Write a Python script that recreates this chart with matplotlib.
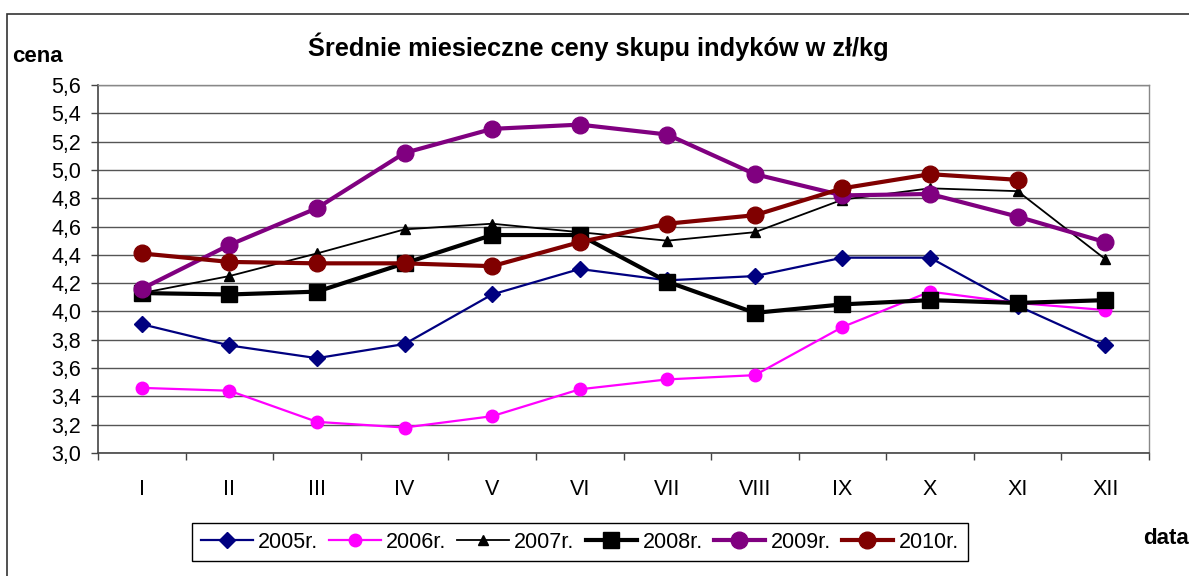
import matplotlib.pyplot as plt
from matplotlib.patches import Rectangle
from matplotlib.ticker import FuncFormatter

months = ['I', 'II', 'III', 'IV', 'V', 'VI', 'VII', 'VIII', 'IX', 'X', 'XI', 'XII']

ceny_2005 = [3.91, 3.76, 3.67, 3.77, 4.12, 4.30, 4.22, 4.25, 4.38, 4.38, 4.04, 3.76]
ceny_2006 = [3.46, 3.44, 3.22, 3.18, 3.26, 3.45, 3.52, 3.55, 3.89, 4.14, 4.06, 4.01]
ceny_2007 = [4.13, 4.25, 4.41, 4.58, 4.62, 4.56, 4.50, 4.56, 4.79, 4.87, 4.85, 4.37]
ceny_2008 = [4.13, 4.12, 4.14, 4.34, 4.54, 4.54, 4.21, 3.99, 4.05, 4.08, 4.06, 4.08]
ceny_2009 = [4.16, 4.47, 4.73, 5.12, 5.29, 5.32, 5.25, 4.97, 4.82, 4.83, 4.67, 4.49]
ceny_2010 = [4.41, 4.35, 4.34, 4.34, 4.32, 4.49, 4.62, 4.68, 4.87, 4.97, 4.93]

plt.rcParams['font.family'] = ['Liberation Sans', 'DejaVu Sans']

fig = plt.figure(figsize=(11.89, 5.76), dpi=100)
ax = fig.add_axes([98 / 1189, 1 - 453 / 576, (1149 - 98) / 1189, (453 - 85) / 576])

# ramka calego wykresu
fig.patches.append(Rectangle((7 / 1189, -0.01), 1.02, 1 - 14 / 576 + 0.01,
                             transform=fig.transFigure, fill=False,
                             edgecolor='#333333', linewidth=1.2))

x = list(range(len(months)))

ax.plot(x, ceny_2005, color='#000080', linewidth=1.6, marker='D', markersize=8.5, label='2005r.')
ax.plot(x, ceny_2006, color='#FF00FF', linewidth=1.6, marker='o', markersize=9, label='2006r.')
ax.plot(x, ceny_2007, color='black', linewidth=1.3, marker='^', markersize=7.5, label='2007r.')
ax.plot(x, ceny_2008, color='black', linewidth=3.0, marker='s', markersize=11, label='2008r.')
ax.plot(x, ceny_2009, color='#800080', linewidth=3.0, marker='o', markersize=12, label='2009r.')
ax.plot(x[:len(ceny_2010)], ceny_2010, color='#800000', linewidth=3.0, marker='o', markersize=12,
        label='2010r.')

ax.set_xlim(-0.5, 11.5)
ax.set_ylim(3.0, 5.6)
ax.set_yticks([3.0 + 0.2 * i for i in range(14)])
ax.yaxis.set_major_formatter(FuncFormatter(lambda v, p: f'{v:.1f}'.replace('.', ',')))
ax.set_xticks(x)
ax.set_xticklabels(months)
ax.set_xticks([i - 0.5 for i in range(13)], minor=True)
ax.tick_params(axis='x', which='major', length=0, pad=19, labelsize=15.5)
ax.tick_params(axis='x', which='minor', length=5, width=1, color='#444444')
ax.tick_params(axis='y', length=5, width=1, color='#444444', pad=7, labelsize=15.5)

ax.grid(axis='y', color='#555555', linewidth=1.0)
ax.set_axisbelow(True)
for side in ['top', 'right']:
    ax.spines[side].set_color('#888888')
    ax.spines[side].set_linewidth(1.0)
ax.spines['left'].set_color('#444444')
ax.spines['left'].set_linewidth(1.2)
ax.spines['bottom'].set_color('#444444')
ax.spines['bottom'].set_linewidth(1.2)

fig.text(598 / 1189, 1 - 47 / 576, 'Średnie miesieczne ceny skupu indyków w zł/kg',
         ha='center', va='center', fontsize=18.3, fontweight='bold')
fig.text(12 / 1189, 1 - 56 / 576, 'cena', ha='left', va='center', fontsize=16, fontweight='bold')
fig.text(1143 / 1189, 1 - 538 / 576, 'data', ha='left', va='center', fontsize=16, fontweight='bold')

leg = fig.legend(loc='center', bbox_to_anchor=(580 / 1189, 1 - 542 / 576), ncol=6,
                 fontsize=15.5, handlelength=2.4, handletextpad=0.25, columnspacing=0.5,
                 borderpad=0.4, borderaxespad=0, fancybox=False, framealpha=1,
                 edgecolor='black')
leg.get_frame().set_linewidth(1.0)

fig.savefig('out.png', dpi=100)
